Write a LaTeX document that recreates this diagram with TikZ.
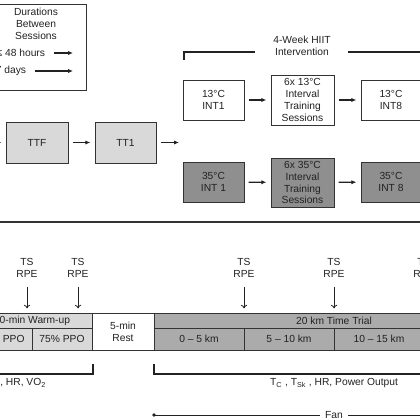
\documentclass[tikz,border=0pt]{standalone}
\usepackage{xcolor}
\usepackage{fontspec}
\setmainfont{Liberation Sans}
\usepackage{tikz}
\usetikzlibrary{arrows.meta}

\definecolor{rahmen}{HTML}{333333}
\definecolor{schrift}{HTML}{222222}
\definecolor{hellgrau}{HTML}{D9D9D9}
\definecolor{mittelgrau}{HTML}{ABABAB}
\definecolor{dunkelgrau}{HTML}{8F8F8F}

\begin{document}
\begin{tikzpicture}[x=0.025cm,y=0.025cm,
		font=\fontsize{7.3}{8.5}\selectfont,text=schrift,
		kasten/.style={draw=rahmen,line width=0.6pt,align=center,inner sep=0pt},
		zelle/.style={draw=rahmen,line width=0.6pt,align=center,inner sep=0pt},
		pfeil/.style={-{Latex[length=3.5pt,width=3pt]},line width=0.9pt,draw=schrift,shorten <=3pt,shorten >=3pt},
		messpfeil/.style={-{To[length=2.5pt,width=4.5pt]},line width=0.6pt,draw=schrift,shorten <=3pt,shorten >=3pt},
		klammer/.style={line width=0.9pt,draw=schrift}]
				\useasboundingbox (0,0) rectangle (420,420);
				% Legende
				\draw[rahmen,line width=0.6pt] (-40,330) rectangle (86,416);
				\node[align=center] (dauer) at (36,396) {Durations\\Between\\Sessions};
				\node[anchor=east] (kurz) at (50,367) {≤ 48 hours};
				\node[anchor=east] (lang) at (31,349) {≥ 7 days};
				\coordinate (kurzende) at (73,367);
				\coordinate (langende) at (73,349);
				\draw[pfeil,shorten >=0pt] (kurz) -- (kurzende);
				\draw[pfeil,shorten >=0pt] (lang) -- (langende);
				% Klammer Intervention
				\node[align=center] (hiit) at (302,374) {4-Week HIIT\\Intervention};
				\coordinate (hiitl) at (184,360);
				\coordinate (hiitla) at (255,368);
				\coordinate (hiitra) at (348,368);
				\coordinate (hiitr) at (421,360);
				\draw[klammer] (hiitl) |- (hiitla);
				\draw[klammer] (hiitra) -| (hiitr);
				% Vortests
				\coordinate (start) at (-15,277.5);
				\node[kasten,fill=hellgrau,minimum width=1.55cm,minimum height=1.025cm] (ttf) at (37,277.5) {TTF};
				\node[kasten,fill=hellgrau,minimum width=1.525cm,minimum height=1.025cm] (tt1) at (125.5,277.5) {TT1};
				\coordinate (weiter) at (179,277.5);
				\draw[pfeil,shorten <=0pt] (start) -- (ttf);
				\draw[pfeil] (ttf) -- (tt1);
				\draw[pfeil,shorten >=0pt] (tt1) -- (weiter);
				% 13 Grad
				\node[kasten,fill=white,minimum width=1.525cm,minimum height=1cm] (int1k) at (213.5,320) {13°C\\INT1};
				\node[kasten,fill=white,minimum width=1.575cm,minimum height=1.25cm] (sesk) at (302.5,320) {6x 13°C\\Interval\\Training\\Sessions};
				\node[kasten,fill=white,minimum width=1.5cm,minimum height=1cm] (int8k) at (391,320) {13°C\\INT8};
				\draw[pfeil] (int1k) -- (sesk);
				\draw[pfeil] (sesk) -- (int8k);
				% 35 Grad
				\node[kasten,fill=dunkelgrau,minimum width=1.525cm,minimum height=1cm] (int1w) at (213.5,238) {35°C\\INT 1};
				\node[kasten,fill=dunkelgrau,minimum width=1.575cm,minimum height=1.225cm] (sesw) at (302.5,237.5) {6x 35°C\\Interval\\Training\\Sessions};
				\node[kasten,fill=dunkelgrau,minimum width=1.5cm,minimum height=1cm] (int8w) at (391,238) {35°C\\INT 8};
				\draw[pfeil] (int1w) -- (sesw);
				\draw[pfeil] (sesw) -- (int8w);
				% Trennlinie
				\draw[line width=1.4pt,draw=rahmen] (-10,198) -- (430,198);
				% Ablauf Testtag
				\node[zelle,fill=hellgrau,minimum width=3cm,minimum height=0.375cm] (aufw) at (32,99.5) {10-min Warm-up};
				\node[zelle,fill=hellgrau,minimum width=1.5cm,minimum height=0.55cm] (ppo50) at (2,81) {50\% PPO};
				\node[zelle,fill=hellgrau,minimum width=1.5cm,minimum height=0.55cm] (ppo75) at (62,81) {75\% PPO};
				\node[zelle,fill=white,minimum width=1.55cm,minimum height=0.925cm] (pause) at (123,88.5) {5-min\\Rest};
				\node[zelle,fill=mittelgrau,minimum width=9cm,minimum height=0.375cm] (zeitf) at (334,99.5) {20 km Time Trial};
				\node[zelle,fill=mittelgrau,minimum width=2.25cm,minimum height=0.55cm] (km1) at (199,81) {0 – 5 km};
				\node[zelle,fill=mittelgrau,minimum width=2.25cm,minimum height=0.55cm] (km2) at (289,81) {5 – 10 km};
				\node[zelle,fill=mittelgrau,minimum width=2.25cm,minimum height=0.55cm] (km3) at (379,81) {10 – 15 km};
				\node[zelle,fill=mittelgrau,minimum width=2.25cm,minimum height=0.55cm] (km4) at (469,81) {15 – 20 km};
				% TS und RPE
				\node[align=center] (ts1) at (27,152) {TS\\RPE};
				\node[align=center] (ts2) at (78,152) {TS\\RPE};
				\node[align=center] (ts3) at (244,152) {TS\\RPE};
				\node[align=center] (ts4) at (334,152) {TS\\RPE};
				\node[align=center] (ts5) at (424,152) {TS\\RPE};
				\draw[messpfeil] (ts1.south) -- (ts1.south |- aufw.north);
				\draw[messpfeil] (ts2.south) -- (ts2.south |- aufw.north);
				\draw[messpfeil] (ts3.south) -- (ts3.south |- zeitf.north);
				\draw[messpfeil] (ts4.south) -- (ts4.south |- zeitf.north);
				\draw[messpfeil] (ts5.south) -- (ts5.south |- zeitf.north);
				% Messungen
				\coordinate (wul) at (-30,46);
				\coordinate (wur) at (93,56);
				\coordinate (ttl) at (154,56);
				\coordinate (ttr) at (440,46);
				\draw[klammer] (wul) -| (wur);
				\draw[klammer] (ttl) |- (ttr);
				\node[anchor=east] (messwu) at (51,37) {T\textsubscript{C} , T\textsubscript{Sk} , HR, VO\textsubscript{2}};
				\node (messtt) at (334,37) {T\textsubscript{C} , T\textsubscript{Sk} , HR, Power Output};
				% Ventilator
				\coordinate (fanstart) at (154,5);
				\coordinate (fanende) at (440,5);
				\node (fan) at (334,5) {Fan};
				\fill[schrift] (fanstart) circle (1.3pt);
				\draw[line width=0.6pt,draw=schrift] (fanstart) -- (fan.west);
				\draw[line width=0.6pt,draw=schrift] (fan.east) -- (fanende);
			\end{tikzpicture}
\end{document}
